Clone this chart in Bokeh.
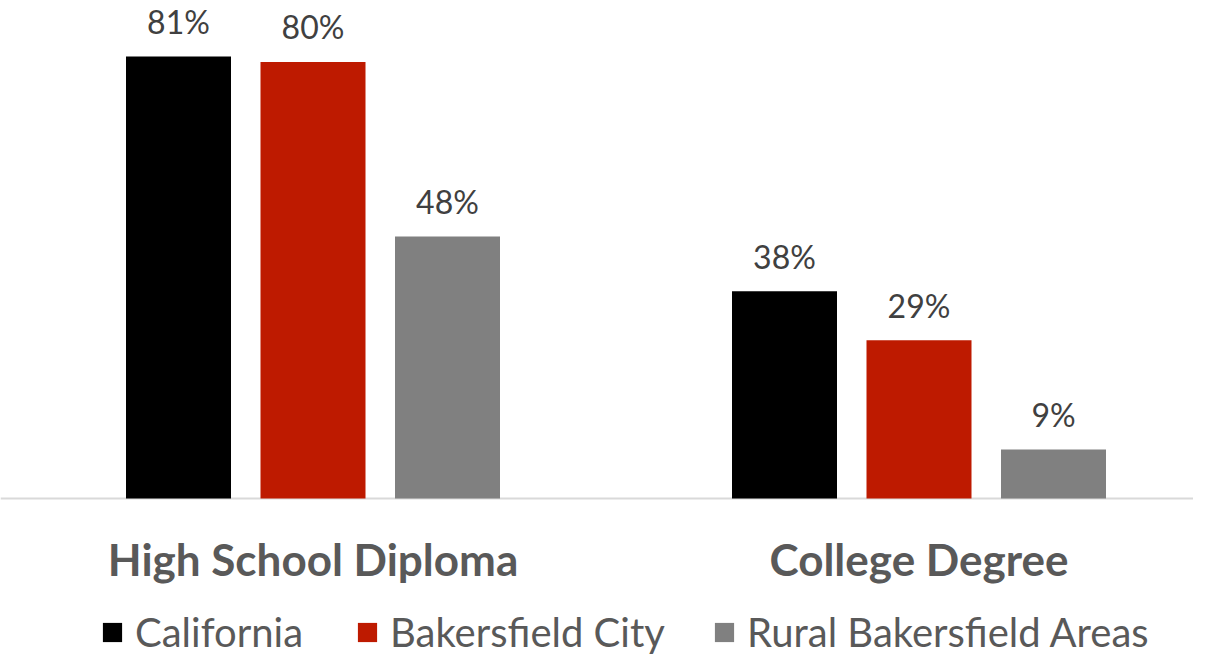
import numpy as np
from bokeh.plotting import figure
from bokeh.models import Range1d, Span, Legend, LegendItem, ColumnDataSource
from bokeh.core.properties import value
from bokeh.embed import file_html
from bokeh.resources import INLINE

# ---- data ----
categories = ["High School Diploma", "College Degree"]
series_names = ["California", "Bakersfield City", "Rural Bakersfield Areas"]
california = [81, 38]
bakersfield_city = [80, 29]
rural_bakersfield = [48, 9]
series_values = [california, bakersfield_city, rural_bakersfield]
series_colors = ["#000000", "#BE1A00", "#808080"]

W, H = 1193, 658
px_per_unit_x = 606.0
px_per_pct = 5.457
base_px = 498  # baseline from top of canvas

x_start = -312.5 / px_per_unit_x
p = figure(width=W, height=H, output_backend="svg", toolbar_location=None,
           x_range=Range1d(x_start, x_start + W / px_per_unit_x),
           y_range=Range1d(-(H - base_px) / px_per_pct, base_px / px_per_pct),
           min_border=0, min_border_left=0, min_border_right=0,
           min_border_top=0, min_border_bottom=0)
p.xaxis.visible = False
p.yaxis.visible = False
p.grid.visible = False
p.outline_line_color = None
p.background_fill_color = "white"
p.border_fill_color = "white"

baseline = Span(location=0, dimension="width", line_color="#D9D9D9", line_width=2, level="underlay")
p.add_layout(baseline)

offset = 134.5 / px_per_unit_x
bar_w = 105 / px_per_unit_x
cat_idx = np.arange(len(categories))

renderers = []
for j, (name, vals, col) in enumerate(zip(series_names, series_values, series_colors)):
    xs = cat_idx + (j - 1) * offset
    src = ColumnDataSource(dict(x=xs, top=vals, lab=[f"{v}%" for v in vals]))
    r = p.vbar(x="x", top="top", bottom=0, width=bar_w, source=src,
               fill_color=col, line_color=None)
    renderers.append(r)
    p.text(x="x", y="top", text="lab", source=src, text_align="center",
           text_baseline="alphabetic", y_offset=-35,
           text_font=value("Lato"), text_font_size="32px", text_color="#404040")

cat_src = ColumnDataSource(dict(x=cat_idx, y=[0] * len(categories), t=categories))
p.text(x="x", y="y", text="t", source=cat_src, text_align="center",
       text_baseline="alphabetic", y_offset=60,
       text_font=value("Lato"), text_font_style="bold", text_font_size="44px",
       text_color="#595959")

legend_x = [100, 355, 712]
for name, r, lx in zip(series_names, renderers, legend_x):
    lg = Legend(items=[LegendItem(label=name, renderers=[r])], location=(lx, 2),
                orientation="horizontal", padding=0, margin=0, spacing=0,
                border_line_color=None, background_fill_alpha=0,
                glyph_width=24, glyph_height=24, label_standoff=11,
                label_text_font="Lato", label_text_font_size="40px",
                label_text_color="#595959")
    p.add_layout(lg, "center")

open("out.html", "w").write(file_html(p, INLINE))
